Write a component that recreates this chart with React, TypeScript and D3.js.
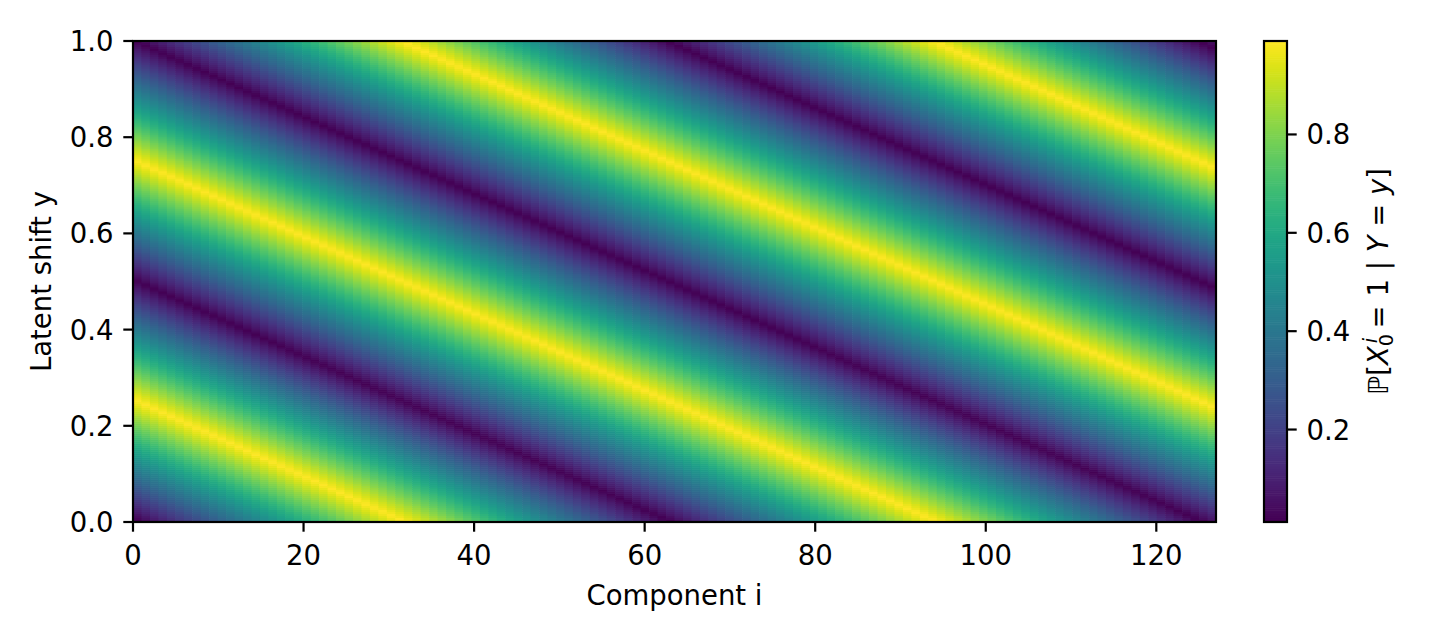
import React, { useMemo } from "react";
import * as d3 from "d3";

// ---- data ----
const componentIndex = d3.range(128); // components i = 0..127
const shiftSteps = 240;
const latentShift = d3.range(shiftSteps).map((k) => k / (shiftSteps - 1)); // y in [0,1]
const phasePerComponent = 0.1; // radians per component (period ~62.8)
const cyclesPerUnitShift = 2; // two full cycles over y in [0,1]
const probMin = 0.012;
const probMax = 0.99;
const xTicks = [0, 20, 40, 60, 80, 100, 120];
const yTicks = [0, 0.2, 0.4, 0.6, 0.8, 1.0];
const cbarTicks = [0.2, 0.4, 0.6, 0.8];
const xLabel = "Component i";
const yLabel = "Latent shift y";

function prob(i: number, y: number): number {
  const phase = 2 * Math.PI * cyclesPerUnitShift * y + phasePerComponent * i;
  let u = (phase / (2 * Math.PI)) % 1;
  if (u < 0) u += 1;
  const tri = 1 - Math.abs(2 * u - 1);
  return probMin + (probMax - probMin) * tri;
}

// ---- layout ----
const W = 1440;
const H = 640;
const L = 133;
const R = 1216;
const T = 41;
const B = 522;
const CB_L = 1264;
const CB_R = 1287;
const FS = 27.5;
const LW = 2.2;
const TICK = 9.7;
const FONT = "DejaVu Sans";

export default function App() {
  const xBand = d3.scaleBand<number>().domain(componentIndex).range([L, R]);
  const yBand = d3.scaleBand<number>().domain(d3.range(shiftSteps)).range([B, T]);
  const xAxis = d3.scaleLinear().domain([0, 127]).range([L, R]);
  const yAxis = d3.scaleLinear().domain([0, 1]).range([B, T]);
  const color = d3.scaleSequential(d3.interpolateViridis).domain([probMin, probMax]);
  const cbScale = d3.scaleLinear().domain([probMin, probMax]).range([B, T]);

  const cells = useMemo(() => {
    const out: JSX.Element[] = [];
    const bw = xBand.bandwidth();
    const bh = yBand.bandwidth();
    componentIndex.forEach((i, j) => {
      latentShift.forEach((y, r) => {
        const x0 = xBand(i)!;
        const y0 = yBand(r)!;
        out.push(
          <rect
            key={`${j}-${r}`}
            x={x0}
            y={y0 - (r < shiftSteps - 1 ? 0.6 : 0)}
            width={bw + (j < componentIndex.length - 1 ? 0.6 : 0)}
            height={bh + (r < shiftSteps - 1 ? 0.6 : 0)}
            fill={color(prob(i, y))}
          />
        );
      });
    });
    return out;
  }, []);

  const cbLevels = d3.range(256).map((k) => probMin + ((probMax - probMin) * k) / 256);
  const cbStep = (probMax - probMin) / 256;

  const subFS = FS * 0.7;

  return (
    <svg
      width={W}
      height={H}
      style={{ position: "absolute", left: 0, top: 0, display: "block", background: "#fff" }}
      fontFamily={FONT}
    >
      <rect x={0} y={0} width={W} height={H} fill="#fff" />
      <g>{cells}</g>
      {/* axes frame */}
      <rect x={L} y={T} width={R - L} height={B - T} fill="none" stroke="#000" strokeWidth={LW} />
      {/* x ticks */}
      {xTicks.map((t) => (
        <g key={`xt${t}`}>
          <line x1={xAxis(t)} x2={xAxis(t)} y1={B} y2={B + TICK} stroke="#000" strokeWidth={LW} />
          <text x={xAxis(t)} y={564.5} fontSize={FS} textAnchor="middle" fill="#000">
            {t}
          </text>
        </g>
      ))}
      {/* y ticks */}
      {yTicks.map((t) => (
        <g key={`yt${t}`}>
          <line x1={L - TICK} x2={L} y1={yAxis(t)} y2={yAxis(t)} stroke="#000" strokeWidth={LW} />
          <text x={L - TICK - 9.7} y={yAxis(t) + 10} fontSize={FS} textAnchor="end" fill="#000">
            {t.toFixed(1)}
          </text>
        </g>
      ))}
      <text x={(L + R) / 2} y={605} fontSize={FS} textAnchor="middle" fill="#000">
        {xLabel}
      </text>
      <text
        transform={`translate(50.5,${(T + B) / 2}) rotate(-90)`}
        fontSize={FS}
        textAnchor="middle"
        fill="#000"
      >
        {yLabel}
      </text>

      {/* colorbar */}
      <g>
        {cbLevels.map((v, k) => (
          <rect
            key={`cb${k}`}
            x={CB_L}
            y={cbScale(v + cbStep) - (k < 255 ? 0.6 : 0)}
            width={CB_R - CB_L}
            height={cbScale(v) - cbScale(v + cbStep) + (k < 255 ? 0.6 : 0)}
            fill={color(v + cbStep / 2)}
          />
        ))}
      </g>
      <rect x={CB_L} y={T} width={CB_R - CB_L} height={B - T} fill="none" stroke="#000" strokeWidth={LW} />
      {cbarTicks.map((t) => (
        <g key={`ct${t}`}>
          <line x1={CB_R} x2={CB_R + TICK} y1={cbScale(t)} y2={cbScale(t)} stroke="#000" strokeWidth={LW} />
          <text x={CB_R + TICK + 9.7} y={cbScale(t) + 10} fontSize={FS} textAnchor="start" fill="#000">
            {t.toFixed(1)}
          </text>
        </g>
      ))}
      <text
        transform={`translate(1387.5,${(T + B) / 2}) rotate(-90)`}
        fontSize={FS}
        textAnchor="middle"
        fill="#000"
      >
        <tspan fontStyle="italic">ℙ</tspan>
        <tspan>[</tspan>
        <tspan fontStyle="italic">X</tspan>
        <tspan fontSize={subFS} dy={5.5}>0</tspan>
        <tspan fontSize={subFS} fontStyle="italic" dx={-subFS * 0.636 + 3} dy={-16}>i</tspan>
        <tspan dx={subFS * 0.636 - 3 - subFS * 0.278} dy={10.5}>{"\u2009= 1 | "}</tspan>
        <tspan fontStyle="italic">Y</tspan>
        <tspan>{" = "}</tspan>
        <tspan fontStyle="italic">y</tspan>
        <tspan>]</tspan>
      </text>
    </svg>
  );
}
